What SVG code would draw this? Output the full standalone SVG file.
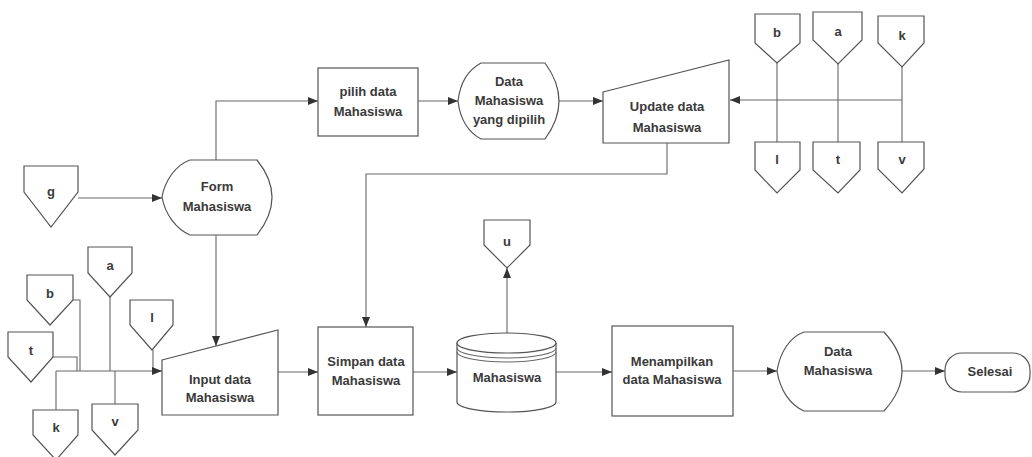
<svg xmlns="http://www.w3.org/2000/svg" width="1032" height="457" viewBox="0 0 1032 457">
  <defs>
    <marker id="arrow" viewBox="0 0 10 8" refX="10" refY="4" markerWidth="10" markerHeight="8" markerUnits="userSpaceOnUse" orient="auto">
      <path d="M0,0 L10,4 L0,8 Z" fill="#333"/>
    </marker>
  </defs>
  <style>
    .shape { fill: #ffffff; stroke: #555555; stroke-width: 1.2; }
    .line { fill: none; stroke: #666666; stroke-width: 1.1; }
    .arr { marker-end: url(#arrow); }
    .lbl { font-family: "Liberation Sans", Arial, sans-serif; font-size: 13px; font-weight: bold; fill: #3a3a3a; text-anchor: middle; }
  </style>
  <rect width="1032" height="457" fill="#ffffff"/>

  <!-- connectors -->
  <g id="connectors">
    <!-- g -> Form -->
    <path class="line arr" d="M78,198 H162"/>
    <!-- Form -> pilih data -->
    <path class="line arr" d="M216,160 V101 H318"/>
    <!-- Form -> Input data -->
    <path class="line arr" d="M216,235 V346"/>
    <!-- pilih -> Data yang dipilih -->
    <path class="line arr" d="M418,101 H458"/>
    <!-- Data yang dipilih -> Update -->
    <path class="line arr" d="M559,101 H603"/>
    <!-- right-side connector bus into Update -->
    <path class="line" d="M777,63 V142 M838,64 V142 M902,67 V142"/>
    <path class="line arr" d="M902,100 H730"/>
    <!-- Update -> Simpan -->
    <path class="line arr" d="M667,143 V174 H366 V327"/>
    <!-- left-side connector bus into Input -->
    <path class="line" d="M110,297 V371 M73,300 H80 V371 M53,357 H77 V371 M153,350 V371 M56,371 V410 M115,371 V404"/>
    <path class="line arr" d="M56,371 H162"/>
    <!-- Input -> Simpan -->
    <path class="line arr" d="M278,372 H318"/>
    <!-- Simpan -> Mahasiswa store -->
    <path class="line arr" d="M413,372 H457"/>
    <!-- store -> u -->
    <path class="line arr" d="M507,333 V268"/>
    <!-- store -> Menampilkan -->
    <path class="line arr" d="M556,372 H612"/>
    <!-- Menampilkan -> Data Mahasiswa -->
    <path class="line arr" d="M733,371 H777"/>
    <!-- Data Mahasiswa -> Selesai -->
    <path class="line arr" d="M902,371 H945"/>
  </g>

  <!-- off-page references, left -->
  <g id="ref-g"><path class="shape" d="M24,166 H78 V192 L51,227 L24,192 Z"/><text class="lbl" x="51" y="196">g</text></g>
  <g id="ref-a-left"><path class="shape" d="M88,247 H132 V273 L110,297 L88,273 Z"/><text class="lbl" x="110" y="270">a</text></g>
  <g id="ref-b-left"><path class="shape" d="M27,275 H73 V300 L50,325 L27,300 Z"/><text class="lbl" x="50" y="298">b</text></g>
  <g id="ref-t-left"><path class="shape" d="M8,332 H53 V357 L31,382 L8,357 Z"/><text class="lbl" x="31" y="355">t</text></g>
  <g id="ref-l-left"><path class="shape" d="M130,300 H173 V325 L152,350 L130,325 Z"/><text class="lbl" x="152" y="322">l</text></g>
  <g id="ref-k-left"><path class="shape" d="M33,410 H78 V435 L56,460 L33,435 Z"/><text class="lbl" x="56" y="432">k</text></g>
  <g id="ref-v-left"><path class="shape" d="M92,404 H138 V430 L115,455 L92,430 Z"/><text class="lbl" x="115" y="426">v</text></g>

  <!-- Form Mahasiswa (display) -->
  <g id="form-mahasiswa">
    <path class="shape" d="M190,160 H257 Q287,197 257,235 H190 C176,229 165,214 162,197 C165,180 176,165 190,160 Z"/>
    <text class="lbl" x="217" y="191">Form</text>
    <text class="lbl" x="217" y="211">Mahasiswa</text>
  </g>

  <!-- pilih data Mahasiswa -->
  <g id="pilih-data">
    <rect class="shape" x="318" y="68" width="100" height="68"/>
    <text class="lbl" x="368" y="96">pilih data</text>
    <text class="lbl" x="368" y="116">Mahasiswa</text>
  </g>

  <!-- Data Mahasiswa yang dipilih (display) -->
  <g id="data-dipilih">
    <path class="shape" d="M481,63 H545 Q573,101 545,139 H481 C468,132 460,118 458,101 C460,84 468,70 481,63 Z"/>
    <text class="lbl" x="509" y="86">Data</text>
    <text class="lbl" x="509" y="105">Mahasiswa</text>
    <text class="lbl" x="509" y="124">yang dipilih</text>
  </g>

  <!-- Update data Mahasiswa (manual input) -->
  <g id="update-data">
    <path class="shape" d="M603,92 L729,60 V143 H603 Z"/>
    <text class="lbl" x="667" y="111">Update data</text>
    <text class="lbl" x="667" y="132">Mahasiswa</text>
  </g>

  <!-- off-page references, right -->
  <g id="ref-b-right"><path class="shape" d="M755,14 H800 V43 L777,63 L755,43 Z"/><text class="lbl" x="777" y="37">b</text></g>
  <g id="ref-a-right"><path class="shape" d="M813,12 H862 V40 L838,64 L813,40 Z"/><text class="lbl" x="838" y="36">a</text></g>
  <g id="ref-k-right"><path class="shape" d="M878,16 H924 V43 L902,67 L878,43 Z"/><text class="lbl" x="902" y="40">k</text></g>
  <g id="ref-l-right"><path class="shape" d="M755,142 H800 V170 L777,193 L755,170 Z"/><text class="lbl" x="777" y="164">l</text></g>
  <g id="ref-t-right"><path class="shape" d="M813,142 H860 V170 L838,193 L813,170 Z"/><text class="lbl" x="838" y="164">t</text></g>
  <g id="ref-v-right"><path class="shape" d="M878,142 H924 V169 L902,193 L878,169 Z"/><text class="lbl" x="902" y="164">v</text></g>

  <!-- Input data Mahasiswa (manual input) -->
  <g id="input-data">
    <path class="shape" d="M162,360 L278,330 V415 H162 Z"/>
    <text class="lbl" x="220" y="384">Input data</text>
    <text class="lbl" x="220" y="402">Mahasiswa</text>
  </g>

  <!-- Simpan data Mahasiswa -->
  <g id="simpan-data">
    <rect class="shape" x="318" y="327" width="95" height="88"/>
    <text class="lbl" x="366" y="366">Simpan data</text>
    <text class="lbl" x="366" y="385">Mahasiswa</text>
  </g>

  <!-- Mahasiswa data store (cylinder) -->
  <g id="store-mahasiswa">
    <path class="shape" d="M457,343 V402 A49.5,10 0 0 0 556,402 V343"/>
    <ellipse class="shape" cx="506.5" cy="343" rx="49.5" ry="10"/>
    <path class="line" d="M457,348 A49.5,10 0 0 0 556,348 M457,352 A49.5,10 0 0 0 556,352"/>
    <text class="lbl" x="507" y="382">Mahasiswa</text>
  </g>

  <!-- u -->
  <g id="ref-u"><path class="shape" d="M484,220 H530 V245 L507,268 L484,245 Z"/><text class="lbl" x="507" y="246">u</text></g>

  <!-- Menampilkan data Mahasiswa -->
  <g id="menampilkan">
    <rect class="shape" x="612" y="326" width="121" height="90"/>
    <text class="lbl" x="672" y="366">Menampilkan</text>
    <text class="lbl" x="672" y="384">data Mahasiswa</text>
  </g>

  <!-- Data Mahasiswa (display) -->
  <g id="data-mahasiswa">
    <path class="shape" d="M804,332 H884 Q920,371 884,411 H804 C790,405 780,390 777,371 C780,352 790,337 804,332 Z"/>
    <text class="lbl" x="838" y="356">Data</text>
    <text class="lbl" x="838" y="375">Mahasiswa</text>
  </g>

  <!-- Selesai (terminator) -->
  <g id="selesai">
    <rect class="shape" x="945" y="353" width="85" height="39" rx="17" ry="17"/>
    <text class="lbl" x="990" y="376">Selesai</text>
  </g>
</svg>
